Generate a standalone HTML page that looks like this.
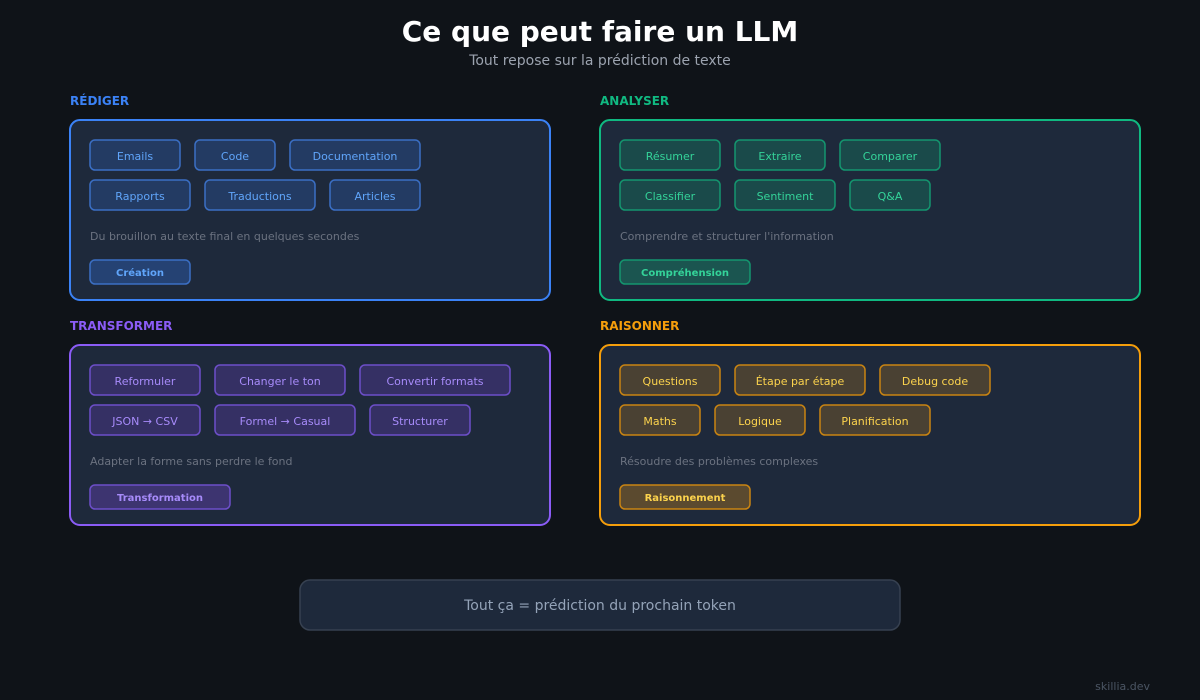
<!DOCTYPE html>
<html><head><meta charset="utf-8"><style>
html,body{margin:0;padding:0;background:#0f1318;}
svg{display:block;font-family:"DejaVu Sans","Liberation Sans",sans-serif;}
</style></head><body>
<svg width="1200" height="700" viewBox="0 0 1200 700" xmlns="http://www.w3.org/2000/svg">
<rect width="1200" height="700" fill="#0f1318"/>
<text x="600" y="41" text-anchor="middle" font-size="28" font-weight="bold" fill="#ffffff">Ce que peut faire un LLM</text>
<text x="600" y="65" text-anchor="middle" font-size="14" fill="#9ca3af">Tout repose sur la prédiction de texte</text>

<!-- RÉDIGER -->
<text x="70" y="105" font-size="12" font-weight="bold" fill="#3b82f6">RÉDIGER</text>
<rect x="70" y="120" width="480" height="180" rx="10" fill="#1e293b" stroke="#3b82f6" stroke-width="2"/>
<g font-size="11" fill="#60a5fa" text-anchor="middle">
<g fill="#233b63" stroke="#3b6fc4" stroke-width="1.5">
<rect x="90" y="140" width="90" height="30" rx="5"/><rect x="195" y="140" width="80" height="30" rx="5"/><rect x="290" y="140" width="130" height="30" rx="5"/>
<rect x="90" y="180" width="100" height="30" rx="5"/><rect x="205" y="180" width="110" height="30" rx="5"/><rect x="330" y="180" width="90" height="30" rx="5"/>
<rect x="90" y="260" width="100" height="24" rx="5" fill="#254273"/>
</g>
<text x="135" y="160">Emails</text><text x="235" y="160">Code</text><text x="355" y="160">Documentation</text>
<text x="140" y="200">Rapports</text><text x="260" y="200">Traductions</text><text x="375" y="200">Articles</text>
<text x="140" y="276" font-size="10" font-weight="bold">Création</text>
</g>
<text x="90" y="240" font-size="11" fill="#6b7280">Du brouillon au texte final en quelques secondes</text>

<!-- ANALYSER -->
<text x="600" y="105" font-size="12" font-weight="bold" fill="#10b981">ANALYSER</text>
<rect x="600" y="120" width="540" height="180" rx="10" fill="#1e293b" stroke="#10b981" stroke-width="2"/>
<g font-size="11" fill="#34d399" text-anchor="middle">
<g fill="#1a4a4a" stroke="#14966f" stroke-width="1.5">
<rect x="620" y="140" width="100" height="30" rx="5"/><rect x="735" y="140" width="90" height="30" rx="5"/><rect x="840" y="140" width="100" height="30" rx="5"/>
<rect x="620" y="180" width="100" height="30" rx="5"/><rect x="735" y="180" width="100" height="30" rx="5"/><rect x="850" y="180" width="80" height="30" rx="5"/>
<rect x="620" y="260" width="130" height="24" rx="5" fill="#1b5550"/>
</g>
<text x="670" y="160">Résumer</text><text x="780" y="160">Extraire</text><text x="890" y="160">Comparer</text>
<text x="670" y="200">Classifier</text><text x="785" y="200">Sentiment</text><text x="890" y="200">Q&amp;A</text>
<text x="685" y="276" font-size="10" font-weight="bold">Compréhension</text>
</g>
<text x="620" y="240" font-size="11" fill="#6b7280">Comprendre et structurer l'information</text>

<!-- TRANSFORMER -->
<text x="70" y="330" font-size="12" font-weight="bold" fill="#8b5cf6">TRANSFORMER</text>
<rect x="70" y="345" width="480" height="180" rx="10" fill="#1e293b" stroke="#8b5cf6" stroke-width="2"/>
<g font-size="11" fill="#a78bfa" text-anchor="middle">
<g fill="#353064" stroke="#6d4fc9" stroke-width="1.5">
<rect x="90" y="365" width="110" height="30" rx="5"/><rect x="215" y="365" width="130" height="30" rx="5"/><rect x="360" y="365" width="150" height="30" rx="5"/>
<rect x="90" y="405" width="110" height="30" rx="5"/><rect x="215" y="405" width="140" height="30" rx="5"/><rect x="370" y="405" width="100" height="30" rx="5"/>
<rect x="90" y="485" width="140" height="24" rx="5" fill="#3d3470"/>
</g>
<text x="145" y="385">Reformuler</text><text x="280" y="385">Changer le ton</text><text x="435" y="385">Convertir formats</text>
<text x="145" y="425">JSON → CSV</text><text x="285" y="425">Formel → Casual</text><text x="420" y="425">Structurer</text>
<text x="160" y="501" font-size="10" font-weight="bold">Transformation</text>
</g>
<text x="90" y="465" font-size="11" fill="#6b7280">Adapter la forme sans perdre le fond</text>

<!-- RAISONNER -->
<text x="600" y="330" font-size="12" font-weight="bold" fill="#f59e0b">RAISONNER</text>
<rect x="600" y="345" width="540" height="180" rx="10" fill="#1e293b" stroke="#f59e0b" stroke-width="2"/>
<g font-size="11" fill="#fcd34d" text-anchor="middle">
<g fill="#4a4133" stroke="#c98412" stroke-width="1.5">
<rect x="620" y="365" width="100" height="30" rx="5"/><rect x="735" y="365" width="130" height="30" rx="5"/><rect x="880" y="365" width="110" height="30" rx="5"/>
<rect x="620" y="405" width="80" height="30" rx="5"/><rect x="715" y="405" width="90" height="30" rx="5"/><rect x="820" y="405" width="110" height="30" rx="5"/>
<rect x="620" y="485" width="130" height="24" rx="5" fill="#5b4a2f"/>
</g>
<text x="670" y="385">Questions</text><text x="800" y="385">Étape par étape</text><text x="935" y="385">Debug code</text>
<text x="660" y="425">Maths</text><text x="760" y="425">Logique</text><text x="875" y="425">Planification</text>
<text x="685" y="501" font-size="10" font-weight="bold">Raisonnement</text>
</g>
<text x="620" y="465" font-size="11" fill="#6b7280">Résoudre des problèmes complexes</text>

<rect x="300" y="580" width="600" height="50" rx="10" fill="#1e293b" stroke="#374151" stroke-width="1.5"/>
<text x="600" y="610" text-anchor="middle" font-size="14" fill="#94a3b8">Tout ça = prédiction du prochain token</text>
<text x="1150" y="690" text-anchor="end" font-size="11" fill="#4b5563">skillia.dev</text>
</svg>
</body></html>
